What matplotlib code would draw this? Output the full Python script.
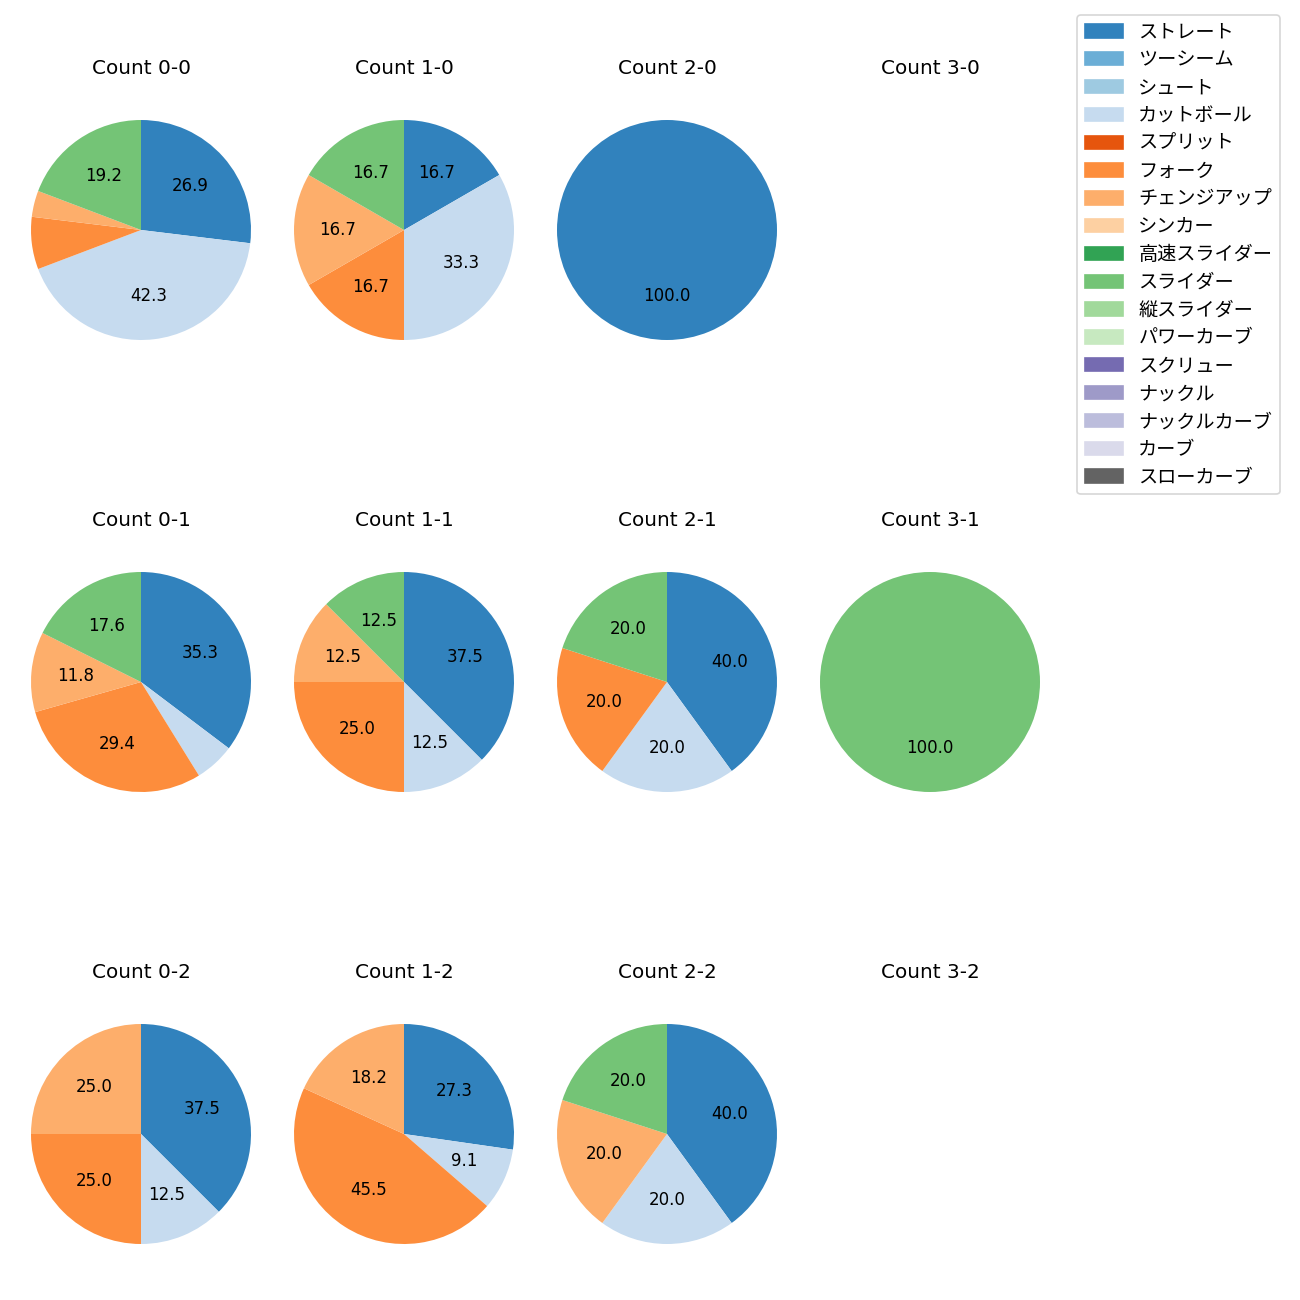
import matplotlib
matplotlib.use('Agg')
import matplotlib.pyplot as plt
import matplotlib.patches as mpatches
import numpy as np

plt.rcParams['font.family'] = ['DejaVu Sans', 'Noto Sans CJK JP']

pitchTypes = ['ストレート', 'ツーシーム', 'シュート', 'カットボール', 'スプリット',
              'フォーク', 'チェンジアップ', 'シンカー', '高速スライダー', 'スライダー',
              '縦スライダー', 'パワーカーブ', 'スクリュー', 'ナックル', 'ナックルカーブ',
              'カーブ', 'スローカーブ']

# pitch counts per ball-strike count, in legend order
# (ストレート, カットボール, フォーク, チェンジアップ, スライダー); others are 0
countLabels = [['0-0', '1-0', '2-0', '3-0'],
               ['0-1', '1-1', '2-1', '3-1'],
               ['0-2', '1-2', '2-2', '3-2']]

straight = {'0-0': 7, '1-0': 1, '2-0': 1, '3-0': 0,
            '0-1': 6, '1-1': 3, '2-1': 2, '3-1': 0,
            '0-2': 3, '1-2': 3, '2-2': 2, '3-2': 0}
cutter = {'0-0': 11, '1-0': 2, '2-0': 0, '3-0': 0,
          '0-1': 1, '1-1': 1, '2-1': 1, '3-1': 0,
          '0-2': 1, '1-2': 1, '2-2': 1, '3-2': 0}
fork = {'0-0': 2, '1-0': 1, '2-0': 0, '3-0': 0,
        '0-1': 5, '1-1': 2, '2-1': 1, '3-1': 0,
        '0-2': 2, '1-2': 5, '2-2': 0, '3-2': 0}
changeup = {'0-0': 1, '1-0': 1, '2-0': 0, '3-0': 0,
            '0-1': 2, '1-1': 1, '2-1': 0, '3-1': 0,
            '0-2': 2, '1-2': 2, '2-2': 1, '3-2': 0}
slider = {'0-0': 5, '1-0': 1, '2-0': 0, '3-0': 0,
          '0-1': 3, '1-1': 1, '2-1': 1, '3-1': 1,
          '0-2': 0, '1-2': 0, '2-2': 1, '3-2': 0}

colors = plt.get_cmap('tab20c').colors[:17]


def CountValues(cnt):
    vals = [0] * len(pitchTypes)
    vals[0] = straight[cnt]
    vals[3] = cutter[cnt]
    vals[5] = fork[cnt]
    vals[6] = changeup[cnt]
    vals[9] = slider[cnt]
    return vals


def PctLabel(p):
    return '%.1f' % p if p >= 8 else ''


W = 1300.0
axSize = 275.0
colCenters = [141, 404, 667, 930]
rowCenters = [230, 682, 1134]

fig, axes = plt.subplots(3, 4, figsize=(W / 120, W / 120), dpi=120)
fig.subplots_adjust(left=(colCenters[0] - axSize / 2) / W,
                    right=(colCenters[-1] + axSize / 2) / W,
                    top=1 - (rowCenters[0] - axSize / 2) / W,
                    bottom=1 - (rowCenters[-1] + axSize / 2) / W,
                    wspace=(263 - axSize) / axSize,
                    hspace=(452 - axSize) / axSize)

for iRow in range(3):
    for iCol in range(4):
        ax = axes[iRow][iCol]
        cnt = countLabels[iRow][iCol]
        vals = np.array(CountValues(cnt), dtype=float)
        if vals.sum() > 0:
            ax.pie(vals, colors=colors, startangle=90, counterclock=False,
                   autopct=PctLabel)
        else:
            ax.set_xlim(-1.25, 1.25)
            ax.set_ylim(-1.25, 1.25)
            ax.set_aspect('equal')
        ax.axis('off')
        ax.set_title('Count ' + cnt, pad=11)

handles = [mpatches.Patch(color=colors[i], label=pitchTypes[i])
           for i in range(len(pitchTypes))]
fig.legend(handles=handles, loc='upper left', borderaxespad=0,
           bbox_to_anchor=(1077 / W, 1 - 15 / W), fontsize=11.5,
           labelspacing=0.46)

plt.savefig('out.png', dpi=120)
